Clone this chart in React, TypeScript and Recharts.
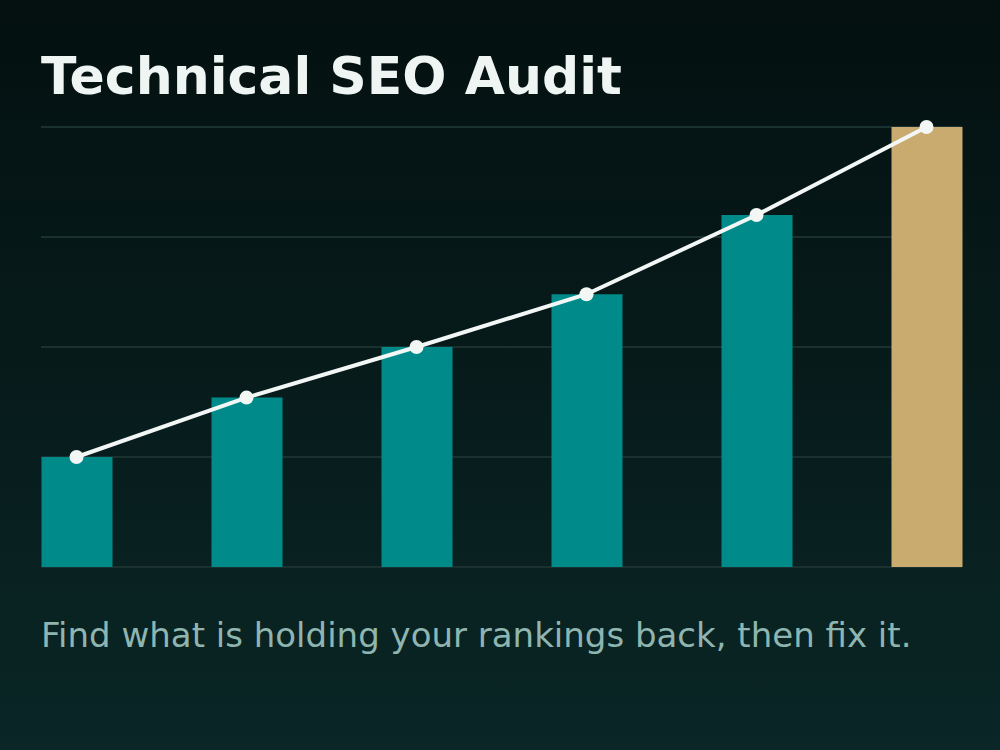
import { ComposedChart, Bar, Line, XAxis, YAxis, CartesianGrid, Cell } from "recharts";

const steps = [0, 1, 2, 3, 4, 5];
const scores = [25, 38.5, 50, 62, 80, 100];
const yTicks = [0, 25, 50, 75, 100];

const TEAL = "#008b8a";
const GOLD = "#c9aa6f";
const LINE = "#f2f7f6";

const data = steps.map((s, i) => ({ step: s, score: scores[i] }));

export default function App() {
  return (
    <div
      style={{
        position: "fixed",
        left: 0,
        top: 0,
        width: 1000,
        height: 750,
        background: "linear-gradient(180deg, #041010 0%, #0a2626 100%)",
        fontFamily: "'DejaVu Sans', sans-serif",
        overflow: "hidden",
      }}
    >
      <div
        style={{
          position: "absolute",
          left: 41,
          top: 46,
          fontSize: 52,
          fontWeight: 700,
          color: "#eef5f3",
          lineHeight: "60px",
          whiteSpace: "nowrap",
        }}
      >
        Technical SEO Audit
      </div>
      <ComposedChart
        width={1000}
        height={750}
        data={data}
        margin={{ top: 127, right: 38, bottom: 183, left: 41 }}
        style={{ position: "absolute", left: 0, top: 0 }}
      >
        <CartesianGrid vertical={false} stroke="#1b3130" strokeWidth={2} />
        <XAxis
          type="number"
          dataKey="step"
          domain={[0, 5]}
          padding={{ left: 35.5, right: 35.5 }}
          hide
        />
        <YAxis domain={[0, 100]} ticks={yTicks} hide />
        <Bar dataKey="score" barSize={71} isAnimationActive={false}>
          {data.map((_, i) => (
            <Cell key={i} fill={i === data.length - 1 ? GOLD : TEAL} />
          ))}
        </Bar>
        <Line
          dataKey="score"
          type="linear"
          stroke={LINE}
          strokeWidth={4}
          dot={{ r: 7, fill: LINE, stroke: "none" }}
          activeDot={false}
          isAnimationActive={false}
        />
      </ComposedChart>
      <div
        style={{
          position: "absolute",
          left: 41,
          top: 615,
          fontSize: 34,
          color: "#8fb5b0",
          lineHeight: "40px",
          whiteSpace: "nowrap",
        }}
      >
        Find what is holding your rankings back, then fix it.
      </div>
    </div>
  );
}
